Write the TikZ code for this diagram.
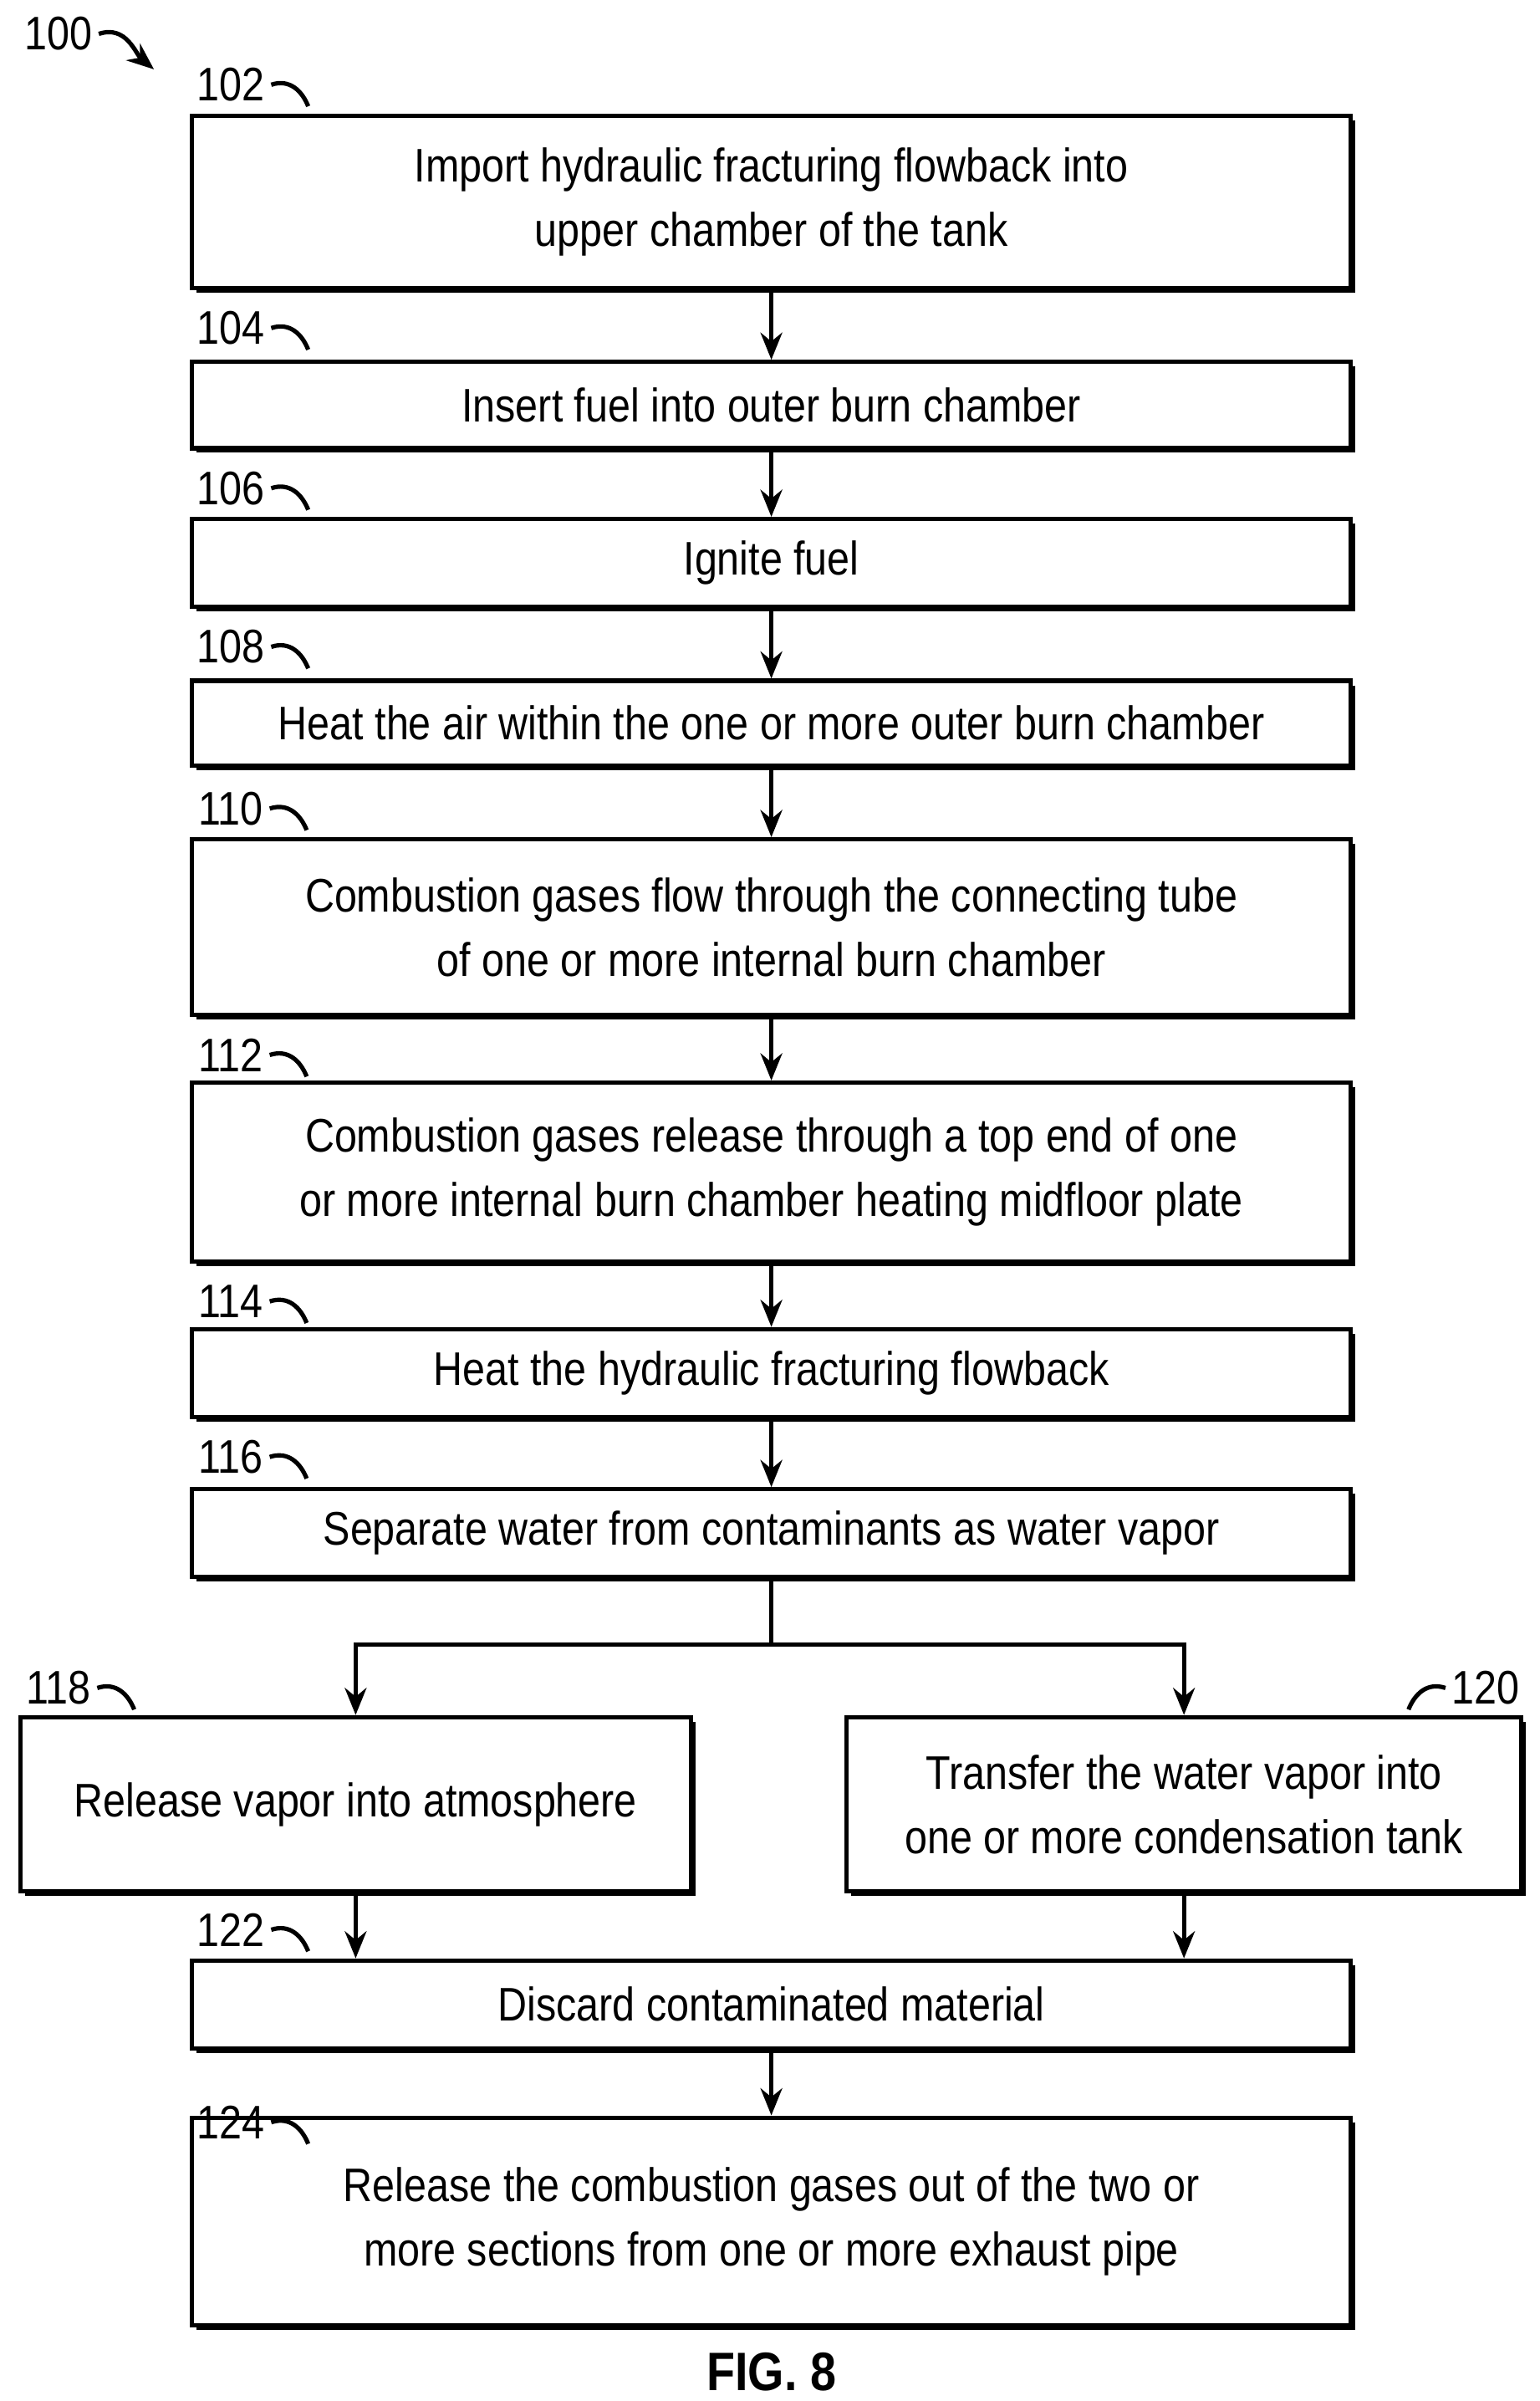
\documentclass[tikz,border=0pt]{standalone}
\usepackage{fontspec}
\setmainfont[FakeStretch=0.86]{Liberation Sans}
\usetikzlibrary{arrows.meta,shadows}
\begin{document}
\begin{tikzpicture}[x=0.01cm,y=-0.01cm,
         stepbox/.style = {draw,thick,fill=white,align=center,inner sep=0pt,
            font=\fontsize{8.7pt}{11.9pt}\selectfont,
            drop shadow={shadow xshift=0.03cm,shadow yshift=-0.03cm,fill=black,opacity=1}},
         ref/.style = {font=\fontsize{8.7pt}{10pt}\selectfont,inner sep=1pt},
         flow/.style = {thick,-{Stealth[length=5pt,width=4pt]}},
         tick/.style = {thick}
]
   \useasboundingbox (0,0) rectangle (1000,1559);
   % steps
   \node[stepbox,minimum width=7.52cm,minimum height=1.12cm] (s102) at (501,131)
      {Import hydraulic fracturing flowback into\\upper chamber of the tank};
   \node[stepbox,minimum width=7.52cm,minimum height=0.56cm] (s104) at (501,263)
      {Insert fuel into outer burn chamber};
   \node[stepbox,minimum width=7.52cm,minimum height=0.57cm] (s106) at (501,365.5)
      {Ignite fuel};
   \node[stepbox,minimum width=7.52cm,minimum height=0.55cm] (s108) at (501,469.5)
      {Heat the air within the one or more outer burn chamber};
   \node[stepbox,minimum width=7.52cm,minimum height=1.14cm] (s110) at (501,602)
      {Combustion gases flow through the connecting tube\\of one or more internal burn chamber};
   \node[stepbox,minimum width=7.52cm,minimum height=1.16cm] (s112) at (501,761)
      {Combustion gases release through a top end of one\\or more internal burn chamber heating midfloor plate};
   \node[stepbox,minimum width=7.52cm,minimum height=0.57cm] (s114) at (501,891.5)
      {Heat the hydraulic fracturing flowback};
   \node[stepbox,minimum width=7.52cm,minimum height=0.57cm] (s116) at (501,995.5)
      {Separate water from contaminants as water vapor};
   \node[stepbox,minimum width=4.35cm,minimum height=1.13cm] (s118) at (231,1171.5)
      {Release vapor into atmosphere};
   \node[stepbox,minimum width=4.38cm,minimum height=1.13cm] (s120) at (769,1171.5)
      {Transfer the water vapor into\\one or more condensation tank};
   \node[stepbox,minimum width=7.52cm,minimum height=0.57cm] (s122) at (501,1301.5)
      {Discard contaminated material};
   \node[stepbox,minimum width=7.52cm,minimum height=1.35cm] (s124) at (501,1442.5)
      {Release the combustion gases out of the two or\\more sections from one or more exhaust pipe};

   % connectors
   \draw[flow] (s102) -- (s104);
   \draw[flow] (s104) -- (s106);
   \draw[flow] (s106) -- (s108);
   \draw[flow] (s108) -- (s110);
   \draw[flow] (s110) -- (s112);
   \draw[flow] (s112) -- (s114);
   \draw[flow] (s114) -- (s116);
   \coordinate (split) at (501,1068);
   \draw[thick] (s116.south) -- (split);
   \draw[flow] (split) -| (s118.north);
   \draw[flow] (split) -| (s120.north);
   \draw[flow] (s118.south) -- (s118.south |- s122.north);
   \draw[flow] (s120.south) -- (s120.south |- s122.north);
   \draw[flow] (s122) -- (s124);

   % reference numerals
   \foreach \name/\ya in {102/55,104/213,106/317,108/420,110/525,112/685,114/845,116/946,122/1253,124/1378}{
      \node[ref] (r\name) at (150,\ya) {\name};
      \draw[tick] (r\name.east) .. controls +(12,-4) and +(-4,-10) .. +(24,14);
   }
   \node[ref] (r118) at (38,1096) {118};
   \draw[tick] (r118.east) .. controls +(12,-4) and +(-4,-10) .. +(24,14);
   \node[ref] (r120) at (965,1096) {120};
   \draw[tick] (r120.west) .. controls +(-12,-4) and +(4,-10) .. +(-24,14);
   \node[ref] (r100) at (38,22) {100};
   \coordinate (p100) at (100,45);
   \draw[flow] (r100.east) .. controls +(18,-6) and +(-12,-10) .. (p100);

   \node[font=\fontsize{10pt}{12pt}\selectfont\bfseries] (fig) at (501,1540) {FIG. 8};
\end{tikzpicture}
\end{document}
